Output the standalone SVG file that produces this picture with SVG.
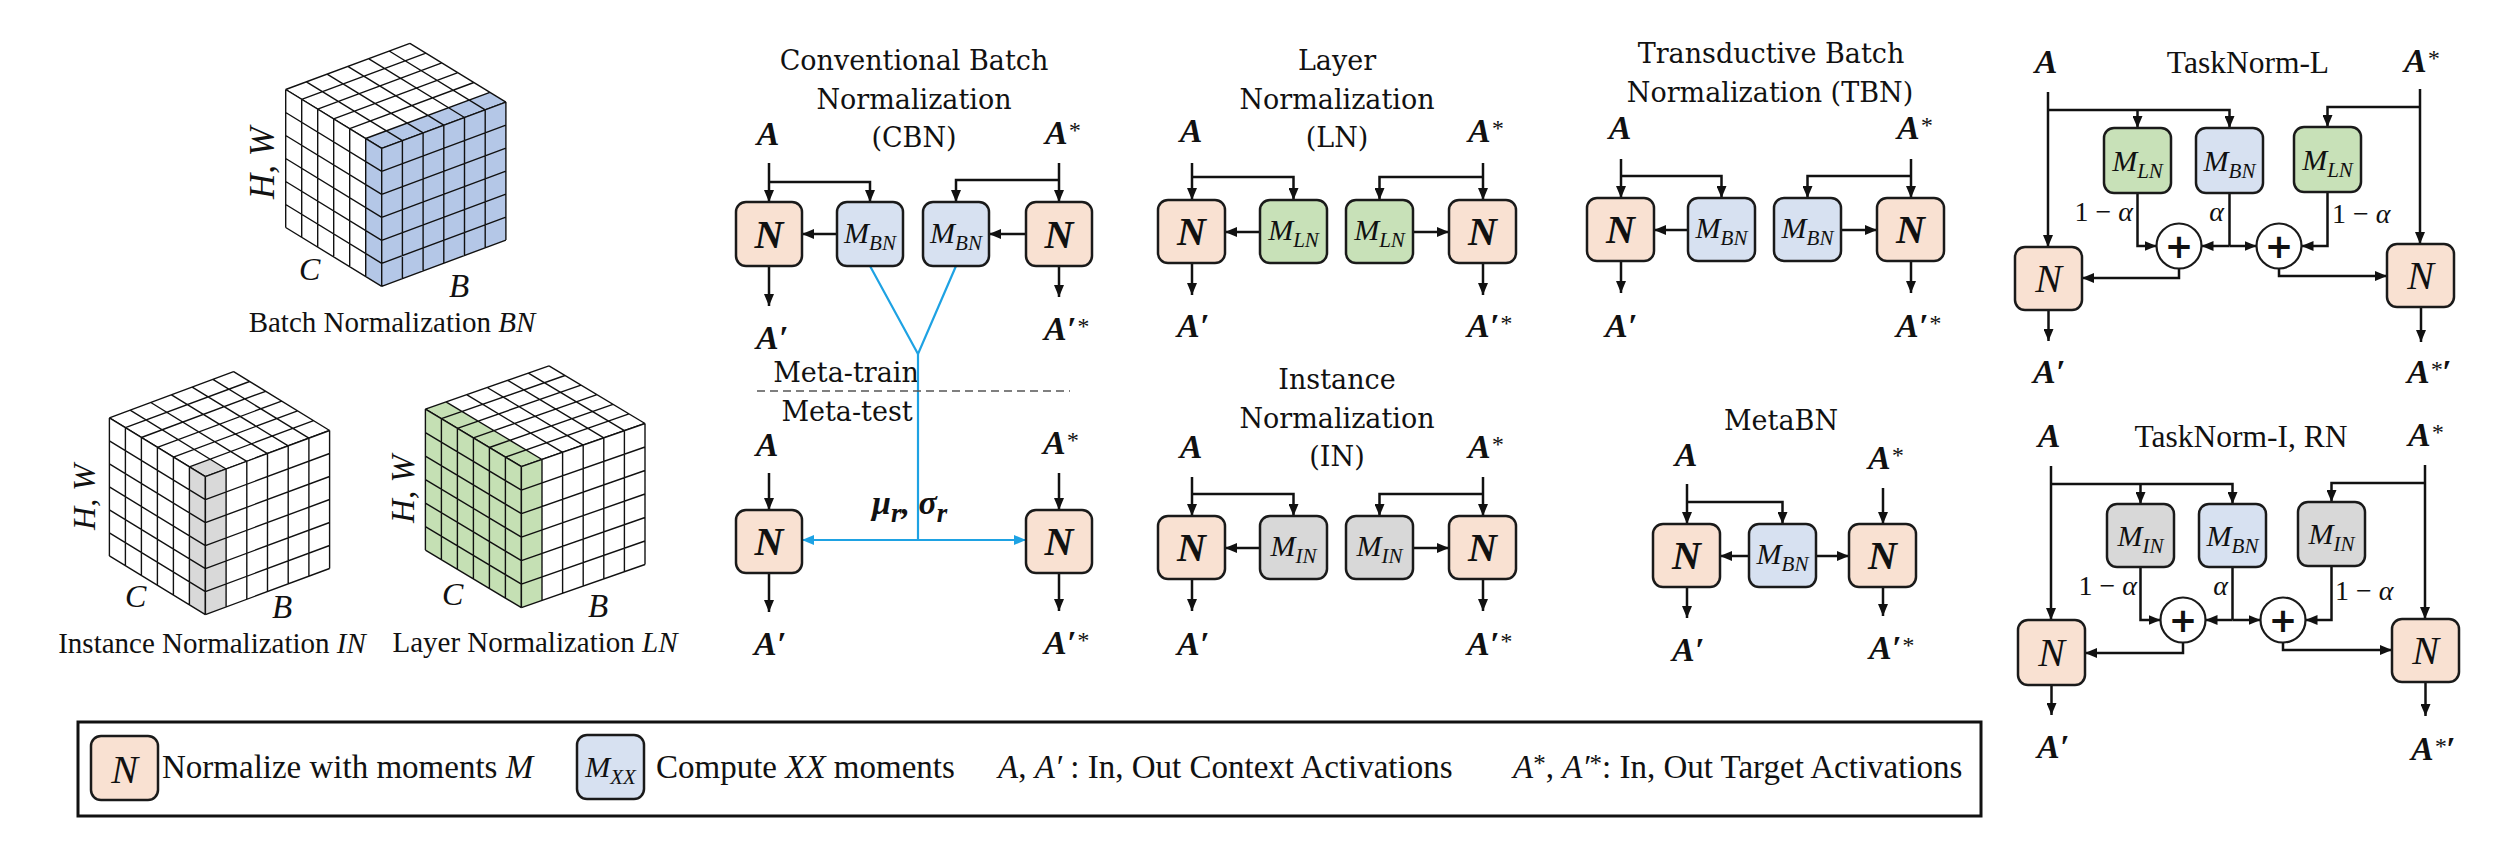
<svg xmlns="http://www.w3.org/2000/svg" xmlns:xlink="http://www.w3.org/1999/xlink" width="2518" height="842" viewBox="0 0 2518 842">
<style>
.ttl{font-family:"DejaVu Serif",serif;font-size:27px;fill:#111;text-anchor:middle}
.tt2{font-family:"Liberation Serif",serif;font-size:31.5px;fill:#111;text-anchor:middle}
.lab{font-family:"Liberation Serif",serif;font-size:29px;fill:#111}
.ax{font-family:"Liberation Serif",serif;font-style:italic;fill:#111}
.it{font-style:italic}
.ba{font-family:"Liberation Serif","DejaVu Serif",serif;font-weight:bold;font-style:italic;font-size:34px;fill:#111}
.sup{font-size:24px;font-weight:normal}
.nb{font-family:"Liberation Serif",serif;font-weight:bold;font-style:italic;font-size:40px;fill:#111;text-anchor:middle}
.ni{font-family:"Liberation Serif",serif;font-style:italic;font-size:40px;fill:#111;text-anchor:middle}
.mb{font-family:"Liberation Serif",serif;font-style:italic;font-size:30px;fill:#111;text-anchor:middle}
.mi{font-family:"Liberation Serif",serif;font-style:italic;font-size:30px;fill:#111;text-anchor:middle}
.sub{font-size:21px}
.al{font-family:"Liberation Serif","DejaVu Serif",serif;font-size:28px;fill:#111}
.lg{font-family:"Liberation Serif",serif;font-size:33px;fill:#111}
.pl{font-family:"DejaVu Sans",sans-serif;font-weight:bold;font-size:34px;fill:#111;text-anchor:middle}
.n{fill:#f9e1d2;stroke:#1a1a1a;stroke-width:2.5}
.mbn{fill:#d7e1f1;stroke:#1a1a1a;stroke-width:2.5}
.mln{fill:#c8e1b8;stroke:#1a1a1a;stroke-width:2.5}
.min{fill:#d8d8d8;stroke:#1a1a1a;stroke-width:2.5}
.ci{fill:#fff;stroke:#1a1a1a;stroke-width:2.2}
.c{fill:none;stroke:#111;stroke-width:2.5}
.ca{fill:none;stroke:#111;stroke-width:2.5;marker-end:url(#ah)}
.b{fill:none;stroke:#1ea2e3;stroke-width:2.2}
.bl{fill:none;stroke:#1ea2e3;stroke-width:2.2;marker-end:url(#ahb)}
.fw{fill:#fff}
.hb{fill:#b4c7e7}
.hg{fill:#d9d9d9}
.hl{fill:#c5e0b4}
</style>
<defs>
<marker id="ah" viewBox="0 0 12 10" refX="12" refY="5" markerWidth="12" markerHeight="10" markerUnits="userSpaceOnUse" orient="auto"><path d="M0,0 L12,5 L0,10 z" fill="#111"/></marker>
<marker id="ahb" viewBox="0 0 12 10" refX="12" refY="5" markerWidth="12" markerHeight="10" markerUnits="userSpaceOnUse" orient="auto"><path d="M0,0 L12,5 L0,10 z" fill="#1ea2e3"/></marker>
<path id="grid" d="M0 0H6M0 1H6M0 2H6M0 3H6M0 4H6M0 5H6M0 6H6M0 0V6M1 0V6M2 0V6M3 0V6M4 0V6M5 0V6M6 0V6" fill="none" stroke="#111" stroke-width="1.4" vector-effect="non-scaling-stroke"/>
</defs>
<rect x="0" y="0" width="2518" height="842" fill="#fff"/>

<!-- Cubes -->
<g id="cube-bn">
<g transform="matrix(20.7,-7.7,-16,-9.8,381.7,148.3)"><rect class="fw" width="6" height="6"/><rect class="hb" width="6" height="1"/><use xlink:href="#grid"/></g>
<g transform="matrix(-16,-9.8,0,23,381.7,148.3)"><rect class="fw" width="6" height="6"/><rect class="hb" width="1" height="6"/><use xlink:href="#grid"/></g>
<g transform="matrix(20.7,-7.7,0,23,381.7,148.3)"><rect class="hb" width="6" height="6"/><use xlink:href="#grid"/></g>
<text class="ax" font-size="35" text-anchor="middle" transform="translate(274,163) rotate(-90)">H, W</text>
<text class="ax" font-size="32" x="299" y="280">C</text>
<text class="ax" font-size="33" x="449" y="297">B</text>
<text class="lab" x="392" y="332" text-anchor="middle">Batch Normalization <tspan class="it">BN</tspan></text>
</g>
<g id="cube-in">
<g transform="matrix(20.7,-7.7,-16,-9.8,205.4,476.7)"><rect class="fw" width="6" height="6"/><rect class="hg" width="1" height="1"/><use xlink:href="#grid"/></g>
<g transform="matrix(-16,-9.8,0,23,205.4,476.7)"><rect class="fw" width="6" height="6"/><rect class="hg" width="1" height="6"/><use xlink:href="#grid"/></g>
<g transform="matrix(20.7,-7.7,0,23,205.4,476.7)"><rect class="fw" width="6" height="6"/><rect class="hg" width="1" height="6"/><use xlink:href="#grid"/></g>
<text class="ax" font-size="32" text-anchor="middle" transform="translate(95,497) rotate(-90)">H, W</text>
<text class="ax" font-size="32" x="125" y="607">C</text>
<text class="ax" font-size="33" x="272" y="618">B</text>
<text class="lab" x="212" y="653" text-anchor="middle">Instance Normalization <tspan class="it">IN</tspan></text>
</g>
<g id="cube-ln">
<g transform="matrix(20.6,-7.2,-16,-9.6,521.4,466.7)"><rect class="fw" width="6" height="6"/><rect class="hl" width="1" height="6"/><use xlink:href="#grid"/></g>
<g transform="matrix(-16,-9.6,0,23.5,521.4,466.7)"><rect class="hl" width="6" height="6"/><use xlink:href="#grid"/></g>
<g transform="matrix(20.6,-7.2,0,23.5,521.4,466.7)"><rect class="fw" width="6" height="6"/><rect class="hl" width="1" height="6"/><use xlink:href="#grid"/></g>
<text class="ax" font-size="33" text-anchor="middle" transform="translate(414,489) rotate(-90)">H, W</text>
<text class="ax" font-size="32" x="442" y="605">C</text>
<text class="ax" font-size="33" x="588" y="617">B</text>
<text class="lab" x="535" y="652" text-anchor="middle">Layer Normalization <tspan class="it">LN</tspan></text>
</g>

<!-- Titles and labels -->
<g id="titles">
<text class="ttl" x="914" y="70">Conventional Batch</text>
<text class="ttl" x="914" y="109">Normalization</text>
<text class="ttl" x="914" y="147">(CBN)</text>
<text class="ttl" x="846" y="382" font-size="23">Meta-train</text>
<text class="ttl" x="847" y="421" font-size="23">Meta-test</text>
<text class="ttl" x="1337" y="70">Layer</text>
<text class="ttl" x="1337" y="109">Normalization</text>
<text class="ttl" x="1337" y="147">(LN)</text>
<text class="ttl" x="1337" y="389">Instance</text>
<text class="ttl" x="1337" y="428">Normalization</text>
<text class="ttl" x="1337" y="466">(IN)</text>
<text class="ttl" x="1771" y="63">Transductive Batch</text>
<text class="ttl" x="1770" y="102">Normalization (TBN)</text>
<text class="ttl" x="1781" y="430">MetaBN</text>
<text class="tt2" x="2248" y="73">TaskNorm-L</text>
<text class="tt2" x="2241" y="447">TaskNorm-I, RN</text>
</g>
<g id="activations">
<text class="ba" x="768" y="145" text-anchor="middle">A</text>
<text class="ba" x="1045" y="144">A<tspan class="sup" dy="-6">*</tspan></text>
<text class="ba" x="756" y="349">A′</text>
<text class="ba" x="1044" y="340">A′<tspan class="sup" dy="-6">*</tspan></text>
<text class="ba" x="767" y="456" text-anchor="middle">A</text>
<text class="ba" x="1043" y="454">A<tspan class="sup" dy="-6">*</tspan></text>
<text class="ba" x="754" y="655">A′</text>
<text class="ba" x="1044" y="654">A′<tspan class="sup" dy="-6">*</tspan></text>
<text class="ba" x="1191" y="142" text-anchor="middle">A</text>
<text class="ba" x="1468" y="142">A<tspan class="sup" dy="-6">*</tspan></text>
<text class="ba" x="1177" y="337">A′</text>
<text class="ba" x="1467" y="337">A′<tspan class="sup" dy="-6">*</tspan></text>
<text class="ba" x="1191" y="458" text-anchor="middle">A</text>
<text class="ba" x="1468" y="458">A<tspan class="sup" dy="-6">*</tspan></text>
<text class="ba" x="1177" y="655">A′</text>
<text class="ba" x="1467" y="655">A′<tspan class="sup" dy="-6">*</tspan></text>
<text class="ba" x="1620" y="139" text-anchor="middle">A</text>
<text class="ba" x="1897" y="139">A<tspan class="sup" dy="-6">*</tspan></text>
<text class="ba" x="1605" y="337">A′</text>
<text class="ba" x="1896" y="337">A′<tspan class="sup" dy="-6">*</tspan></text>
<text class="ba" x="1686" y="466" text-anchor="middle">A</text>
<text class="ba" x="1868" y="469">A<tspan class="sup" dy="-6">*</tspan></text>
<text class="ba" x="1672" y="661">A′</text>
<text class="ba" x="1869" y="659">A′<tspan class="sup" dy="-6">*</tspan></text>
<text class="ba" x="2046" y="73" text-anchor="middle">A</text>
<text class="ba" x="2404" y="72">A<tspan class="sup" dy="-6">*</tspan></text>
<text class="ba" x="2033" y="383">A′</text>
<text class="ba" x="2407" y="383">A<tspan class="sup" dy="-6">*</tspan><tspan dy="6">′</tspan></text>
<text class="ba" x="2049" y="447" text-anchor="middle">A</text>
<text class="ba" x="2408" y="446">A<tspan class="sup" dy="-6">*</tspan></text>
<text class="ba" x="2037" y="758">A′</text>
<text class="ba" x="2411" y="760">A<tspan class="sup" dy="-6">*</tspan><tspan dy="6">′</tspan></text>
<text class="ba" x="872" y="514" font-size="40">μ<tspan font-size="27" dy="8">r</tspan><tspan dy="-8">, σ</tspan><tspan font-size="27" dy="8">r</tspan></text>
</g>

<!-- Connectors -->
<g id="connectors">
<path class="ca" d="M769,163 V202"/>
<path class="ca" d="M769,182 H870 V202"/>
<path class="ca" d="M1059,163 V202"/>
<path class="ca" d="M1059,180 H956 V202"/>
<path class="ca" d="M837,234 H802"/>
<path class="ca" d="M1026,234 H989"/>
<path class="ca" d="M769,266 V306"/>
<path class="ca" d="M1059,266 V297"/>
<path class="b" d="M870,266 L918,354 L956,266"/>
<path class="b" d="M918,354 V540"/>
<path class="bl" d="M918,540 H802"/>
<path class="bl" d="M918,540 H1026"/>
<path d="M757,391 H1070" fill="none" stroke="#555" stroke-width="1.5" stroke-dasharray="8 5"/>
<path class="ca" d="M769,473 V510"/>
<path class="ca" d="M1059,473 V510"/>
<path class="ca" d="M769,573 V612"/>
<path class="ca" d="M1059,573 V611"/>

<path class="ca" d="M1192,163 V200"/>
<path class="ca" d="M1192,177 H1293.5 V200"/>
<path class="ca" d="M1483,163 V200"/>
<path class="ca" d="M1483,177 H1379.5 V200"/>
<path class="ca" d="M1260,232 H1225"/>
<path class="ca" d="M1413,232 H1449"/>
<path class="ca" d="M1192,263 V295"/>
<path class="ca" d="M1483,263 V295"/>

<path class="ca" d="M1192,477 V516"/>
<path class="ca" d="M1192,494 H1293.5 V516"/>
<path class="ca" d="M1483,477 V516"/>
<path class="ca" d="M1483,494 H1379.5 V516"/>
<path class="ca" d="M1260,548 H1225"/>
<path class="ca" d="M1413,548 H1449"/>
<path class="ca" d="M1192,579 V611"/>
<path class="ca" d="M1483,579 V611"/>

<path class="ca" d="M1621,159 V198"/>
<path class="ca" d="M1621,176 H1721.5 V198"/>
<path class="ca" d="M1911,159 V198"/>
<path class="ca" d="M1911,176 H1807.5 V198"/>
<path class="ca" d="M1688,230 H1654"/>
<path class="ca" d="M1841,230 H1877"/>
<path class="ca" d="M1621,261 V293"/>
<path class="ca" d="M1911,261 V293"/>

<path class="ca" d="M1687,484 V524"/>
<path class="ca" d="M1687,502 H1782.5 V524"/>
<path class="ca" d="M1883,488 V524"/>
<path class="ca" d="M1749,556 H1720"/>
<path class="ca" d="M1816,556 H1849"/>
<path class="ca" d="M1687,587 V618"/>
<path class="ca" d="M1883,587 V616"/>

<path class="ca" d="M2048,92 V247"/>
<path class="ca" d="M2048,110 H2229.5 V128"/>
<path class="ca" d="M2137.5,110 V128"/>
<path class="ca" d="M2420,89 V244"/>
<path class="ca" d="M2420,107 H2327.5 V127"/>
<path class="ca" d="M2137.5,193 V246 H2156.5"/>
<path class="c" d="M2229.5,193 V246"/>
<path class="ca" d="M2229.5,246 H2201.5"/>
<path class="ca" d="M2229.5,246 H2256.5"/>
<path class="ca" d="M2327.5,192 V246 H2301.5"/>
<path class="ca" d="M2179,268.5 V278 H2082"/>
<path class="ca" d="M2279,268.5 V276 H2387"/>
<path class="ca" d="M2048.5,310 V341"/>
<path class="ca" d="M2421,307 V342"/>

<path class="ca" d="M2051,466 V620"/>
<path class="ca" d="M2051,484 H2232.5 V504"/>
<path class="ca" d="M2140.5,484 V504"/>
<path class="ca" d="M2425,465 V619"/>
<path class="ca" d="M2425,483 H2331.5 V502"/>
<path class="ca" d="M2140.5,567 V620 H2160.5"/>
<path class="c" d="M2232.5,567 V620"/>
<path class="ca" d="M2232.5,620 H2205.5"/>
<path class="ca" d="M2232.5,620 H2260.5"/>
<path class="ca" d="M2331.5,566 V620 H2305.5"/>
<path class="ca" d="M2183,642.5 V653 H2085"/>
<path class="ca" d="M2283,642.5 V650 H2392"/>
<path class="ca" d="M2051.5,685 V715"/>
<path class="ca" d="M2425.5,682 V716"/>
</g>

<g id="weights">
<text class="al" x="2133" y="221" text-anchor="end">1 − <tspan class="it">α</tspan></text>
<text class="al" x="2224" y="221" text-anchor="end"><tspan class="it">α</tspan></text>
<text class="al" x="2332" y="223">1 − <tspan class="it">α</tspan></text>
<text class="al" x="2137" y="595" text-anchor="end">1 − <tspan class="it">α</tspan></text>
<text class="al" x="2228" y="595" text-anchor="end"><tspan class="it">α</tspan></text>
<text class="al" x="2335" y="600">1 − <tspan class="it">α</tspan></text>
</g>

<!-- CBN nodes -->
<g id="cbn-n1"><rect class="n" x="736" y="202" width="66" height="64" rx="10"/><text class="nb" x="769" y="248">N</text></g>
<g id="cbn-m1"><rect class="mbn" x="837" y="202" width="66" height="64" rx="10"/><text class="mb" x="870" y="243">M<tspan class="sub" dy="7">BN</tspan></text></g>
<g id="cbn-m2"><rect class="mbn" x="923" y="202" width="66" height="64" rx="10"/><text class="mb" x="956" y="243">M<tspan class="sub" dy="7">BN</tspan></text></g>
<g id="cbn-n2"><rect class="n" x="1026" y="202" width="66" height="64" rx="10"/><text class="nb" x="1059" y="248">N</text></g>
<g id="cbn-n3"><rect class="n" x="736" y="510" width="66" height="63" rx="10"/><text class="nb" x="769" y="555">N</text></g>
<g id="cbn-n4"><rect class="n" x="1026" y="510" width="66" height="63" rx="10"/><text class="nb" x="1059" y="555">N</text></g>

<!-- LN nodes -->
<g id="ln-n1"><rect class="n" x="1158" y="200" width="67" height="63" rx="10"/><text class="nb" x="1191.5" y="245">N</text></g>
<g id="ln-m1"><rect class="mln" x="1260" y="200" width="67" height="63" rx="10"/><text class="mb" x="1293.5" y="240">M<tspan class="sub" dy="7">LN</tspan></text></g>
<g id="ln-m2"><rect class="mln" x="1346" y="200" width="67" height="63" rx="10"/><text class="mb" x="1379.5" y="240">M<tspan class="sub" dy="7">LN</tspan></text></g>
<g id="ln-n2"><rect class="n" x="1449" y="200" width="67" height="63" rx="10"/><text class="nb" x="1482.5" y="245">N</text></g>

<!-- IN nodes -->
<g id="in-n1"><rect class="n" x="1158" y="516" width="67" height="63" rx="10"/><text class="nb" x="1191.5" y="561">N</text></g>
<g id="in-m1"><rect class="min" x="1260" y="516" width="67" height="63" rx="10"/><text class="mb" x="1293.5" y="556">M<tspan class="sub" dy="7">IN</tspan></text></g>
<g id="in-m2"><rect class="min" x="1346" y="516" width="67" height="63" rx="10"/><text class="mb" x="1379.5" y="556">M<tspan class="sub" dy="7">IN</tspan></text></g>
<g id="in-n2"><rect class="n" x="1449" y="516" width="67" height="63" rx="10"/><text class="nb" x="1482.5" y="561">N</text></g>

<!-- TBN nodes -->
<g id="tbn-n1"><rect class="n" x="1587" y="198" width="67" height="63" rx="10"/><text class="nb" x="1620.5" y="243">N</text></g>
<g id="tbn-m1"><rect class="mbn" x="1688" y="198" width="67" height="63" rx="10"/><text class="mb" x="1721.5" y="238">M<tspan class="sub" dy="7">BN</tspan></text></g>
<g id="tbn-m2"><rect class="mbn" x="1774" y="198" width="67" height="63" rx="10"/><text class="mb" x="1807.5" y="238">M<tspan class="sub" dy="7">BN</tspan></text></g>
<g id="tbn-n2"><rect class="n" x="1877" y="198" width="67" height="63" rx="10"/><text class="nb" x="1910.5" y="243">N</text></g>

<!-- MetaBN nodes -->
<g id="metabn-n1"><rect class="n" x="1653" y="524" width="67" height="63" rx="10"/><text class="nb" x="1686.5" y="569">N</text></g>
<g id="metabn-m"><rect class="mbn" x="1749" y="524" width="67" height="63" rx="10"/><text class="mb" x="1782.5" y="564">M<tspan class="sub" dy="7">BN</tspan></text></g>
<g id="metabn-n2"><rect class="n" x="1849" y="524" width="67" height="63" rx="10"/><text class="nb" x="1882.5" y="569">N</text></g>

<!-- TaskNorm-L nodes -->
<g id="tnl-n1"><rect class="n" x="2015" y="247" width="67" height="63" rx="10"/><text class="ni" x="2048.5" y="292">N</text></g>
<g id="tnl-m1"><rect class="mln" x="2104" y="128" width="67" height="65" rx="10"/><text class="mi" x="2137.5" y="171">M<tspan class="sub" dy="7">LN</tspan></text></g>
<g id="tnl-m2"><rect class="mbn" x="2196" y="128" width="67" height="65" rx="10"/><text class="mi" x="2229.5" y="171">M<tspan class="sub" dy="7">BN</tspan></text></g>
<g id="tnl-m3"><rect class="mln" x="2294" y="127" width="67" height="65" rx="10"/><text class="mi" x="2327.5" y="170">M<tspan class="sub" dy="7">LN</tspan></text></g>
<g id="tnl-n2"><rect class="n" x="2387" y="244" width="67" height="63" rx="10"/><text class="ni" x="2420.5" y="289">N</text></g>
<g id="tnl-p1"><circle class="ci" cx="2179" cy="246" r="22.5"/><text class="pl" x="2179" y="258">+</text></g>
<g id="tnl-p2"><circle class="ci" cx="2279" cy="246" r="22.5"/><text class="pl" x="2279" y="258">+</text></g>

<!-- TaskNorm-I nodes -->
<g id="tni-n1"><rect class="n" x="2018" y="620" width="67" height="65" rx="10"/><text class="ni" x="2051.5" y="666">N</text></g>
<g id="tni-m1"><rect class="min" x="2107" y="504" width="67" height="63" rx="10"/><text class="mi" x="2140.5" y="546">M<tspan class="sub" dy="7">IN</tspan></text></g>
<g id="tni-m2"><rect class="mbn" x="2199" y="504" width="67" height="63" rx="10"/><text class="mi" x="2232.5" y="546">M<tspan class="sub" dy="7">BN</tspan></text></g>
<g id="tni-m3"><rect class="min" x="2298" y="502" width="67" height="64" rx="10"/><text class="mi" x="2331.5" y="544">M<tspan class="sub" dy="7">IN</tspan></text></g>
<g id="tni-n2"><rect class="n" x="2392" y="619" width="67" height="63" rx="10"/><text class="ni" x="2425.5" y="664">N</text></g>
<g id="tni-p1"><circle class="ci" cx="2183" cy="620" r="22.5"/><text class="pl" x="2183" y="632">+</text></g>
<g id="tni-p2"><circle class="ci" cx="2283" cy="620" r="22.5"/><text class="pl" x="2283" y="632">+</text></g>

<!-- Legend -->
<g id="legend">
<rect x="78" y="722" width="1903" height="94" fill="none" stroke="#111" stroke-width="3"/>
<rect class="n" x="91" y="736" width="67" height="64" rx="10"/>
<text class="ni" x="124.5" y="783" font-size="42">N</text>
<text class="lg" x="162" y="778">Normalize with moments <tspan class="it">M</tspan></text>
<rect class="mbn" x="577" y="735" width="67" height="64" rx="10"/>
<text class="mi" x="610.5" y="777" font-size="28">M<tspan class="sub" font-size="20" dy="7">XX</tspan></text>
<text class="lg" x="656" y="778">Compute <tspan class="it">XX</tspan> moments</text>
<text class="lg" x="998" y="778"><tspan class="it">A</tspan>, <tspan class="it">A′</tspan> : In, Out Context Activations</text>
<text class="lg" x="1513" y="778"><tspan class="it">A</tspan><tspan font-size="25" dy="-6">*</tspan><tspan dy="6">, </tspan><tspan class="it">A′</tspan><tspan font-size="25" dy="-6">*</tspan><tspan dy="6">: In, Out Target Activations</tspan></text>
</g>
</svg>
